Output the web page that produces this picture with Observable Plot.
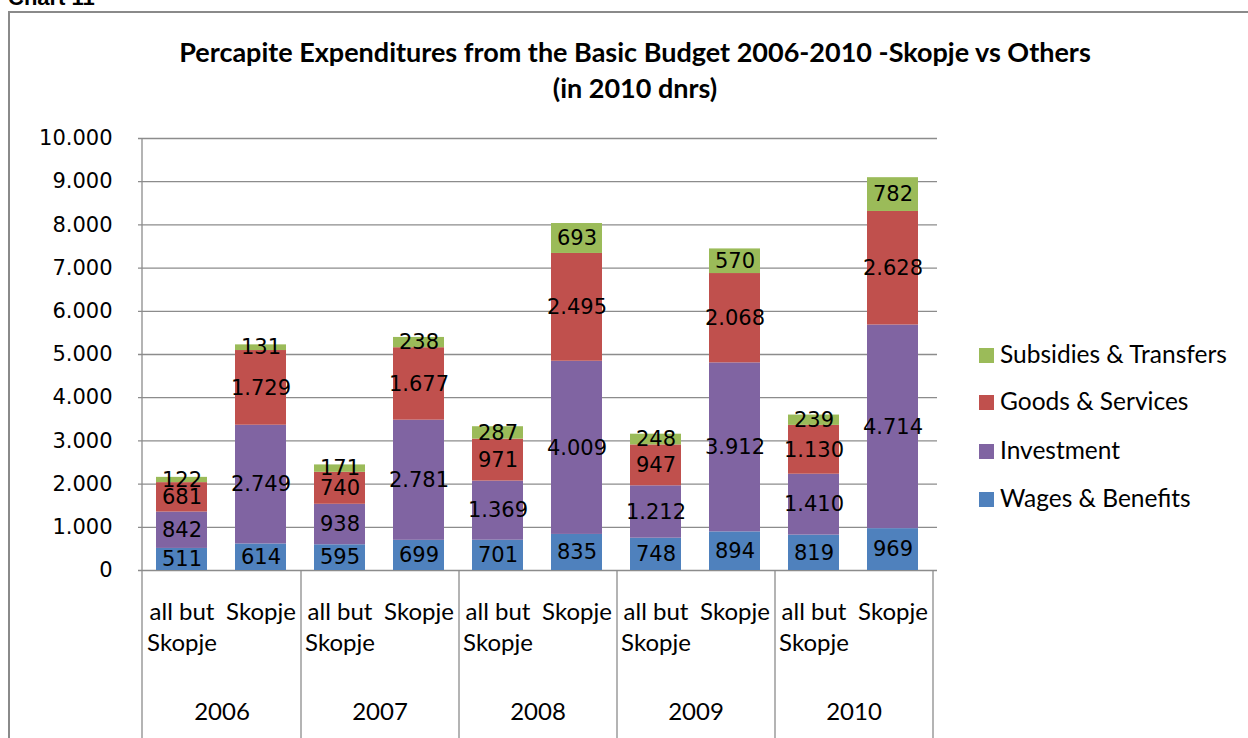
<!DOCTYPE html>
<html>
<head>
<meta charset="utf-8">
<script src="https://cdn.jsdelivr.net/npm/d3@7"></script>
<script src="https://cdn.jsdelivr.net/npm/@observablehq/plot@0.6"></script>
<style>
  html, body { margin: 0; padding: 0; background: #fff; overflow: hidden; }
  #wrap { position: relative; width: 1248px; height: 738px; overflow: hidden; }
  #frame { position: absolute; left: 8px; top: 11px; width: 1300px; height: 800px; border: 2px solid #8a8a8a; box-sizing: border-box; }
  #chartno { position: absolute; left: 8px; top: -15px; font: bold 22px "Liberation Sans", Arial, sans-serif; color: #000; }
  .title { position: absolute; left: 0; width: 1270px; text-align: center; font: bold 27px Lato, sans-serif; color: #000; }
  #plot { position: absolute; left: 0; top: 0; }
  .leg { position: absolute; left: 979px; font: 24.5px Lato, sans-serif; color: #000; white-space: nowrap; }
  .leg span.sw { display: inline-block; width: 15px; height: 15px; margin-right: 6px; vertical-align: 0px; }
</style>
</head>
<body>
<div id="wrap">
  <div id="chartno">Chart 11</div>
  <div id="frame"></div>
  <div id="plot"></div>
  <div class="title" style="top:35px">Percapite Expenditures from the Basic Budget 2006-2010 -Skopje vs Others</div>
  <div class="title" style="top:71px">(in 2010 dnrs)</div>
  <div id="legend"></div>
</div>
<script>
const years = ["2006", "2007", "2008", "2009", "2010"];
const groups = ["all but Skopje", "Skopje"];
const groupLabels = ["all but\nSkopje", "Skopje"];
const series = ["Wages & Benefits", "Investment", "Goods & Services", "Subsidies & Transfers"];
const colors = ["#4F81BD", "#8064A2", "#C0504D", "#9BBB59"];

// all but Skopje
const allButWages = [511, 595, 701, 748, 819];
const allButInvestment = [842, 938, 1369, 1212, 1410];
const allButGoods = [681, 740, 971, 947, 1130];
const allButSubsidies = [122, 171, 287, 248, 239];
// Skopje
const skopjeWages = [614, 699, 835, 894, 969];
const skopjeInvestment = [2749, 2781, 4009, 3912, 4714];
const skopjeGoods = [1729, 1677, 2495, 2068, 2628];
const skopjeSubsidies = [131, 238, 693, 570, 782];

const yTicks = [0, 1000, 2000, 3000, 4000, 5000, 6000, 7000, 8000, 9000, 10000];

const seriesValues = {
  "all but Skopje": [allButWages, allButInvestment, allButGoods, allButSubsidies],
  "Skopje": [skopjeWages, skopjeInvestment, skopjeGoods, skopjeSubsidies]
};

const keyOf = (y, g) => y + "|" + g;
const keys = years.flatMap(y => groups.map(g => keyOf(y, g)));

const data = [];
years.forEach((yr, i) => {
  groups.forEach(g => {
    series.forEach((s, j) => {
      data.push({key: keyOf(yr, g), year: yr, group: g, series: s, value: seriesValues[g][j][i]});
    });
  });
});

const loc = d3.formatLocale({decimal: ",", thousands: ".", grouping: [3], currency: ["", ""]});
const fmt = loc.format(",.0f");

const catRows = years.flatMap(y => groups.map((g, gi) => ({key: keyOf(y, g), label: groupLabels[gi], gi})));

const plot = Plot.plot({
  width: 1248,
  height: 738,
  marginTop: 138,
  marginBottom: 168,
  marginLeft: 138,
  marginRight: 311,
  style: {background: "transparent", fontFamily: "DejaVu Sans", fontSize: "21px", color: "#000"},
  x: {type: "band", domain: keys, paddingInner: 0.35, paddingOuter: 0.175, axis: null},
  y: {domain: [0, 10000], axis: null},
  color: {domain: series, range: colors},
  marks: [
    Plot.ruleY(yTicks, {y: d => d, stroke: "#8c8c8c", strokeWidth: 1.3}),
    Plot.barY(data, {x: "key", y: "value", fill: "series", order: series}),
    Plot.text(data, Plot.stackY({x: "key", y: "value", z: "series", order: series, text: d => fmt(d.value), fill: "#000", fontSize: 21, fontFamily: "DejaVu Sans"})),
    // y tick labels
    Plot.text(yTicks, {y: d => d, frameAnchor: "left", dx: -26, textAnchor: "end", text: d => fmt(d), fontSize: 21, fontFamily: "DejaVu Sans", fill: "#000"}),
    // left axis line extended down
    Plot.ruleX([keys[0]], {x: d => d, dx: -40, stroke: "#8c8c8c", strokeWidth: 1.3, insetBottom: -170}),
    // year separators below axis
    Plot.ruleX(years, {x: y => keyOf(y, groups[1]), dx: 40, stroke: "#8c8c8c", strokeWidth: 1.3, insetTop: 432, insetBottom: -170}),
    // category labels
    Plot.text(catRows, {x: "key", text: "label", frameAnchor: "bottom", dy: 27, textAnchor: "middle", lineAnchor: "top", lineHeight: 1.3, fontSize: 24, fontFamily: "Lato", fill: "#000"}),
    // year labels
    Plot.text(years, {x: y => keyOf(y, groups[0]), dx: 40, text: d => d, frameAnchor: "bottom", dy: 132, lineAnchor: "top", fontSize: 24, fontFamily: "Lato", fill: "#000"})
  ]
});
document.getElementById("plot").appendChild(plot);

const legend = document.getElementById("legend");
const legTops = [339, 386, 435, 483];
[3, 2, 1, 0].forEach((si, r) => {
  const div = document.createElement("div");
  div.className = "leg";
  div.style.top = legTops[r] + "px";
  div.innerHTML = `<span class="sw" style="background:${colors[si]}"></span>${series[si].replace("&", "&amp;")}`;
  legend.appendChild(div);
});
</script>
</body>
</html>
